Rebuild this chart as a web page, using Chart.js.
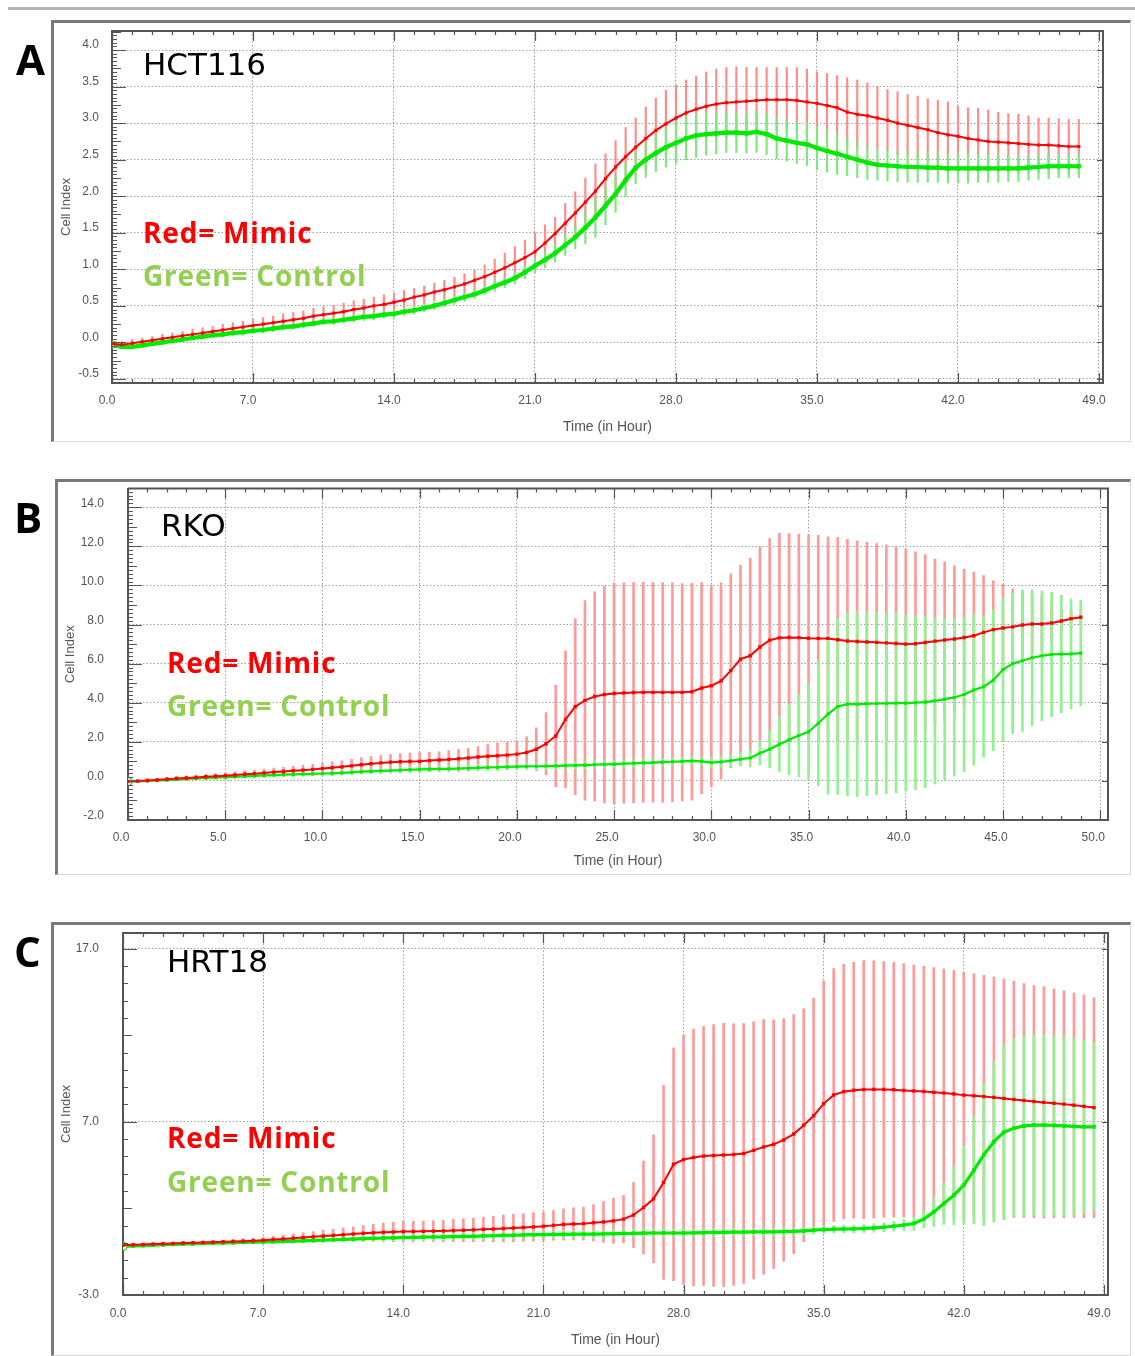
<!DOCTYPE html>
<html>
<head>
<meta charset="utf-8">
<title>Cell Index – Mimic vs Control</title>
<script src="https://cdn.jsdelivr.net/npm/chart.js@4.4.0/dist/chart.umd.min.js"></script>
<style>
  html, body { margin: 0; padding: 0; background: #fff; }
  body { width: 1135px; height: 1356px; position: relative; overflow: hidden; }
  .rule { position: absolute; left: 8px; top: 7px; width: 1127px; height: 3px; background: #b4b4b4; }
  .frame { position: absolute; box-sizing: border-box;
           border-left: 3px solid #7a7a7a; border-top: 3px solid #7a7a7a;
           border-right: 1px solid #dadada; border-bottom: 1px solid #dadada; }
  canvas { position: absolute; left: 0; }
</style>
</head>
<body>
<div class="rule"></div>
<div class="frame" style="left:51px;top:20px;width:1080px;height:422px"></div>
<div class="frame" style="left:55px;top:479px;width:1076px;height:396px"></div>
<div class="frame" style="left:51px;top:922px;width:1080px;height:434px"></div>
<canvas id="chartA" width="1135" height="416" style="top:24px"></canvas>
<canvas id="chartB" width="1135" height="390" style="top:483px"></canvas>
<canvas id="chartC" width="1135" height="428" style="top:926px"></canvas>

<script>
// Cell index readings, one value every half hour from t = 0.
const STEP_H = 0.5;

// ---- HCT116 (0 – 48 h) ----
const mimicA = [
  -0.02,-0.03,-0.01,0.01,0.03,0.05,0.07,0.09,0.11,0.13,
  0.15,0.17,0.19,0.21,0.23,0.25,0.27,0.29,0.31,0.33,
  0.36,0.38,0.40,0.42,0.45,0.47,0.50,0.52,0.55,0.58,
  0.62,0.65,0.69,0.72,0.76,0.80,0.85,0.90,0.96,1.02,
  1.09,1.16,1.24,1.36,1.49,1.63,1.77,1.92,2.07,2.24,
  2.40,2.54,2.67,2.79,2.90,2.99,3.07,3.14,3.19,3.23,
  3.26,3.28,3.29,3.30,3.31,3.32,3.32,3.32,3.31,3.29,
  3.27,3.24,3.21,3.15,3.12,3.10,3.07,3.04,3.00,2.97,
  2.94,2.91,2.87,2.84,2.82,2.79,2.77,2.75,2.74,2.73,
  2.72,2.71,2.70,2.70,2.69,2.68,2.68];
const sdMimicA = [
  .04,.04,.05,.05,.05,.06,.06,.06,.07,.07,
  .07,.08,.08,.08,.09,.09,.09,.10,.10,.10,
  .11,.11,.11,.12,.12,.12,.12,.13,.13,.13,
  .12,.12,.12,.13,.13,.14,.14,.16,.18,.20,
  .22,.24,.26,.25,.22,.27,.29,.33,.37,.34,
  .36,.40,.40,.43,.44,.46,.45,.45,.45,.47,
  .48,.48,.48,.46,.45,.44,.44,.44,.45,.45,
  .43,.44,.44,.47,.47,.45,.43,.42,.43,.42,
  .43,.42,.44,.45,.41,.42,.43,.43,.41,.40,
  .40,.39,.37,.37,.37,.37,.37];
const ctrlA = [
  -0.03,-0.06,-0.06,-0.04,-0.02,0.00,0.02,0.04,0.06,0.08,
  0.10,0.11,0.13,0.14,0.16,0.17,0.19,0.21,0.22,0.24,
  0.26,0.28,0.29,0.31,0.33,0.35,0.36,0.38,0.39,0.42,
  0.44,0.47,0.50,0.54,0.58,0.62,0.66,0.71,0.77,0.82,
  0.88,0.96,1.05,1.13,1.22,1.33,1.44,1.57,1.71,1.87,
  2.03,2.22,2.39,2.50,2.59,2.67,2.73,2.79,2.83,2.85,
  2.86,2.87,2.87,2.86,2.88,2.85,2.79,2.76,2.73,2.71,
  2.66,2.62,2.58,2.54,2.50,2.46,2.43,2.42,2.41,2.40,
  2.40,2.39,2.39,2.38,2.38,2.38,2.38,2.38,2.38,2.38,
  2.38,2.39,2.40,2.41,2.41,2.41,2.41];
const sdCtrlA = [
  .03,.03,.03,.03,.03,.03,.03,.03,.03,.03,
  .03,.03,.04,.04,.04,.04,.04,.04,.04,.04,
  .04,.04,.05,.05,.05,.05,.05,.05,.05,.05,
  .05,.05,.05,.05,.06,.06,.06,.06,.07,.07,
  .08,.09,.10,.11,.12,.14,.16,.22,.27,.26,
  .25,.23,.22,.24,.25,.27,.28,.29,.30,.29,
  .28,.27,.27,.27,.28,.28,.28,.28,.28,.29,
  .30,.29,.28,.26,.25,.23,.21,.21,.21,.21,
  .21,.20,.20,.20,.20,.20,.19,.19,.19,.18,
  .18,.17,.17,.17,.16,.16,.16];

// ---- RKO (0 – 49 h) ----
const mimicB = [
  -0.03,-0.01,0.02,0.05,0.09,0.12,0.15,0.18,0.21,0.24,
  0.27,0.30,0.34,0.37,0.41,0.45,0.48,0.52,0.55,0.59,
  0.63,0.67,0.72,0.77,0.83,0.88,0.92,0.96,0.98,0.99,
  1.00,1.04,1.07,1.10,1.13,1.17,1.22,1.26,1.29,1.32,
  1.37,1.45,1.62,1.90,2.30,3.15,3.80,4.12,4.32,4.42,
  4.47,4.50,4.52,4.53,4.53,4.53,4.53,4.53,4.56,4.75,
  4.87,5.12,5.64,6.23,6.40,6.85,7.20,7.32,7.34,7.33,
  7.30,7.29,7.29,7.22,7.16,7.13,7.11,7.09,7.06,7.03,
  7.00,7.02,7.08,7.15,7.21,7.26,7.34,7.43,7.60,7.74,
  7.82,7.88,7.98,8.03,8.03,8.08,8.18,8.30,8.37];
const sdMimicB = [
  .05,.06,.07,.08,.09,.10,.11,.12,.13,.14,
  .15,.16,.17,.18,.19,.20,.22,.23,.25,.26,
  .28,.30,.31,.33,.35,.37,.38,.40,.42,.43,
  .45,.44,.42,.45,.48,.50,.54,.60,.65,.66,
  .68,.80,1.10,1.60,2.60,3.50,4.50,5.10,5.35,5.55,
  5.65,5.64,5.63,5.63,5.62,5.62,5.60,5.56,5.55,5.40,
  5.15,5.02,4.96,4.80,5.00,5.12,5.20,5.35,5.32,5.30,
  5.30,5.27,5.20,5.24,5.20,5.15,5.10,5.05,5.02,4.95,
  4.85,4.70,4.50,4.20,4.00,3.75,3.50,3.25,2.90,2.50,
  2.25,1.95,1.70,1.50,1.36,1.05,0.65,0.45,0.40];
const ctrlB = [
  -0.03,-0.02,0.00,0.02,0.04,0.07,0.10,0.13,0.15,0.17,
  0.19,0.21,0.23,0.26,0.28,0.30,0.32,0.33,0.35,0.36,
  0.38,0.39,0.41,0.44,0.47,0.49,0.51,0.53,0.55,0.57,
  0.59,0.60,0.61,0.62,0.63,0.65,0.67,0.69,0.70,0.72,
  0.73,0.74,0.75,0.76,0.77,0.78,0.79,0.81,0.83,0.85,
  0.86,0.88,0.90,0.92,0.94,0.96,0.98,1.00,1.02,1.00,
  0.94,0.97,1.03,1.11,1.17,1.42,1.62,1.88,2.10,2.32,
  2.51,2.95,3.42,3.81,3.93,3.93,3.94,3.96,3.97,3.98,
  3.98,4.00,4.03,4.09,4.18,4.27,4.42,4.65,4.82,5.15,
  5.70,6.00,6.15,6.30,6.40,6.47,6.49,6.50,6.54];
const sdCtrlB = [
  .03,.03,.04,.04,.05,.05,.06,.06,.07,.07,
  .08,.08,.09,.09,.10,.10,.10,.11,.11,.11,
  .12,.12,.12,.13,.13,.13,.14,.14,.14,.15,
  .15,.15,.15,.16,.16,.16,.16,.17,.17,.17,
  .17,.17,.17,.17,.17,.17,.18,.18,.18,.18,
  .18,.18,.18,.18,.18,.18,.18,.19,.19,.20,
  .25,.28,.30,.35,.45,.60,.95,1.40,1.80,2.10,
  2.45,3.20,4.10,4.50,4.70,4.73,4.70,4.66,4.62,4.58,
  4.50,4.45,4.38,4.25,4.12,4.02,3.95,3.86,3.60,3.62,
  3.68,3.60,3.62,3.48,3.32,3.18,3.00,2.82,2.70];

// ---- HRT18 (0 – 48.5 h) ----
const mimicC = [
  -0.13,-0.10,-0.08,-0.06,-0.04,-0.02,0.00,0.01,0.03,0.05,
  0.07,0.09,0.11,0.13,0.16,0.20,0.24,0.28,0.32,0.36,
  0.40,0.44,0.48,0.52,0.56,0.59,0.62,0.64,0.66,0.67,
  0.68,0.69,0.70,0.72,0.74,0.76,0.79,0.81,0.84,0.87,
  0.90,0.93,0.97,1.02,1.07,1.10,1.12,1.17,1.22,1.28,
  1.38,1.62,2.05,2.55,3.50,4.55,4.82,4.94,5.02,5.05,
  5.08,5.11,5.17,5.35,5.55,5.70,5.95,6.29,6.80,7.35,
  8.05,8.55,8.74,8.82,8.86,8.87,8.87,8.85,8.81,8.78,
  8.75,8.70,8.66,8.61,8.54,8.50,8.46,8.41,8.35,8.29,
  8.23,8.17,8.12,8.07,8.02,7.96,7.89,7.82];
const sdMimicC = [
  .05,.05,.06,.06,.07,.07,.08,.08,.09,.09,
  .10,.12,.14,.16,.18,.20,.22,.25,.28,.30,
  .33,.36,.39,.42,.46,.50,.54,.57,.60,.60,
  .58,.60,.62,.64,.66,.68,.70,.74,.78,.80,
  .80,.82,.83,.86,.90,.93,.95,1.05,1.18,1.30,
  1.37,1.88,2.68,3.70,5.60,6.72,7.20,7.42,7.47,7.56,
  7.60,7.55,7.50,7.42,7.35,7.18,7.00,6.90,6.72,6.79,
  7.08,7.30,7.35,7.38,7.45,7.42,7.38,7.35,7.32,7.27,
  7.23,7.20,7.17,7.13,7.10,7.05,7.00,6.95,6.90,6.82,
  6.75,6.70,6.68,6.60,6.55,6.48,6.43,6.35];
const ctrlC = [
  -0.19,-0.17,-0.15,-0.12,-0.10,-0.08,-0.06,-0.04,-0.02,0.00,
  0.01,0.02,0.04,0.05,0.06,0.08,0.10,0.11,0.13,0.15,
  0.17,0.19,0.21,0.23,0.25,0.27,0.29,0.30,0.32,0.33,
  0.34,0.35,0.36,0.37,0.38,0.39,0.41,0.42,0.44,0.45,
  0.47,0.48,0.49,0.50,0.50,0.51,0.51,0.52,0.53,0.54,
  0.55,0.56,0.57,0.58,0.58,0.58,0.58,0.59,0.60,0.61,
  0.62,0.63,0.63,0.64,0.64,0.65,0.66,0.67,0.70,0.74,
  0.78,0.80,0.81,0.82,0.84,0.87,0.91,0.97,1.04,1.13,
  1.38,1.80,2.28,2.76,3.35,4.20,5.10,5.85,6.40,6.63,
  6.76,6.81,6.81,6.79,6.76,6.73,6.71,6.71];
const sdCtrlC = [
  .05,.05,.05,.06,.06,.06,.07,.07,.07,.08,
  .08,.08,.09,.09,.10,.10,.11,.11,.12,.12,
  .13,.13,.14,.14,.15,.15,.16,.16,.17,.17,
  .18,.18,.18,.19,.19,.19,.20,.20,.20,.20,
  .20,.20,.21,.21,.21,.21,.21,.22,.22,.22,
  .22,.22,.22,.22,.22,.22,.22,.22,.22,.22,
  .22,.22,.22,.22,.22,.22,.22,.22,.22,.22,
  .22,.22,.22,.22,.23,.24,.26,.28,.32,.40,
  .50,.85,1.20,1.70,2.25,3.10,4.10,4.65,5.05,5.17,
  5.19,5.19,5.25,5.17,5.15,5.10,4.98,4.85];

// Labelled tick values
const xTicksA = [0, 7, 14, 21, 28, 35, 42, 49];
const yTicksA = [-0.5, 0, 0.5, 1, 1.5, 2, 2.5, 3, 3.5, 4];
const xTicksB = [0, 5, 10, 15, 20, 25, 30, 35, 40, 45, 50];
const yTicksB = [-2, 0, 2, 4, 6, 8, 10, 12, 14];
const xTicksC = [0, 7, 14, 21, 28, 35, 42, 49];
const yTicksC = [-3, 7, 17];

// Text
const panelLetters = ['A', 'B', 'C'];
const cellLines = ['HCT116', 'RKO', 'HRT18'];
const legendMimic = 'Red= Mimic';
const legendControl = 'Green= Control';
const yTitle = 'Cell Index';
const xTitle = 'Time (in Hour)';

const AXIS_GREY = '#555';
const TICK_FONT = { family: 'Liberation Sans', size: 12 };

function points(values) {
  return values.map((v, i) => ({ x: i * STEP_H, y: v }));
}
function spread(values, sd) {
  return values.map((v, i) => ({ x: i * STEP_H, y: [v - sd[i], v + sd[i]] }));
}

// Inward tick marks on all four sides plus the top/right frame lines.
const frameTicks = {
  id: 'frameTicks',
  afterDatasetsDraw(chart, args, o) {
    const { ctx, chartArea: a, scales: { x, y } } = chart;
    ctx.save();
    ctx.strokeStyle = AXIS_GREY;
    ctx.lineWidth = 2;
    ctx.beginPath();
    ctx.moveTo(a.left, a.top); ctx.lineTo(a.right, a.top); ctx.lineTo(a.right, a.bottom);
    ctx.stroke();
    ctx.lineWidth = 1.2;
    ctx.beginPath();
    const nx = Math.floor(x.max / o.xMinor + 1e-6);
    for (let k = 0; k <= nx; k++) {
      const v = k * o.xMinor;
      const px = Math.round(x.getPixelForValue(v)) + 0.5;
      const major = Math.abs(v / o.xMajor - Math.round(v / o.xMajor)) < 1e-6;
      const len = major ? 10 : 4;
      ctx.moveTo(px, a.bottom); ctx.lineTo(px, a.bottom - len);
      ctx.moveTo(px, a.top); ctx.lineTo(px, a.top + len);
    }
    const k0 = Math.ceil(y.min / o.yMinor - 1e-6), k1 = Math.floor(y.max / o.yMinor + 1e-6);
    const base = o.yTicks[0];
    for (let k = k0; k <= k1; k++) {
      const v = k * o.yMinor;
      const py = Math.round(y.getPixelForValue(v)) + 0.5;
      const rMaj = (v - base) / o.yMajor, rMid = (v - base) / o.yMid;
      const major = Math.abs(rMaj - Math.round(rMaj)) < 1e-6;
      const mid = Math.abs(rMid - Math.round(rMid)) < 1e-6;
      const len = major ? 14 : (mid ? 9 : 5);
      ctx.moveTo(a.left, py); ctx.lineTo(a.left + len, py);
      if (major) { ctx.moveTo(a.right, py); ctx.lineTo(a.right - 6, py); }
    }
    ctx.stroke();
    ctx.restore();
  }
};

// Panel letter, cell line name and colour key.
const panelText = {
  id: 'panelText',
  afterDraw(chart, args, o) {
    const ctx = chart.ctx;
    ctx.save();
    ctx.textAlign = 'left';
    ctx.textBaseline = 'alphabetic';
    ctx.fillStyle = '#000';
    ctx.font = 'bold 42px "Open Sans"';
    ctx.fillText(o.letter, o.at.letter[0], o.at.letter[1]);
    ctx.font = '31px "DejaVu Sans"';
    ctx.fillText(o.name, o.at.name[0], o.at.name[1]);
    ctx.font = 'bold 28px "Open Sans"';
    ctx.letterSpacing = '0.8px';
    ctx.fillStyle = '#ff0000';
    ctx.fillText(legendMimic, o.at.mimic[0], o.at.mimic[1]);
    ctx.fillStyle = '#92d050';
    ctx.fillText(legendControl, o.at.control[0], o.at.control[1]);
    ctx.letterSpacing = '0px';
    ctx.restore();
  }
};

const panels = [
  { canvas: 'chartA', idx: 0, mimic: mimicA, sdMimic: sdMimicA, ctrl: ctrlA, sdCtrl: sdCtrlA,
    xTicks: xTicksA, yTicks: yTicksA, xMax: 49.2, yMin: -0.555, yMax: 4.26,
    xMajor: 7, xMinor: 1, yMajor: 0.5, yMid: 0.25, yMinor: 0.05,
    pad: { left: 50, right: 32, top: 7, bottom: 0 }, yAxisW: 62, xAxisH: 57,
    yTitlePad: 8.2, xTitlePad: 4.6, yTickPad: 13, xTickPad: 10.8, xLabelOffset: -5, yLabelOffset: -5,
    barW: 1.5, redBar: '#ff8c8c', greenBar: '#7ee87e',
    mimicWidth: 2, mimicRadius: 2.2, ctrlWidth: 4.2, ctrlRadius: 3, firstMarker: 'rect',
    at: { letter: [16, 51], name: [143, 51], mimic: [143, 219], control: [143, 262] } },
  { canvas: 'chartB', idx: 1, mimic: mimicB, sdMimic: sdMimicB, ctrl: ctrlB, sdCtrl: sdCtrlB,
    xTicks: xTicksB, yTicks: yTicksB, xMax: 50.4, yMin: -2, yMax: 14.96,
    xMajor: 5, xMinor: 1, yMajor: 2, yMid: 1, yMinor: 0.2,
    pad: { left: 50, right: 27, top: 5, bottom: 0 }, yAxisW: 78, xAxisH: 53,
    yTitlePad: 12.2, xTitlePad: 3.6, yTickPad: 24, xTickPad: 10.5, xLabelOffset: -7, yLabelOffset: -4,
    barW: 2, redBar: '#ff9a9a', greenBar: '#92f292',
    mimicWidth: 2, mimicRadius: 2.4, ctrlWidth: 2.2, ctrlRadius: 2.2, firstMarker: 'circle',
    at: { letter: [14, 50], name: [161, 53], mimic: [167, 190], control: [167, 233] } },
  { canvas: 'chartC', idx: 2, mimic: mimicC, sdMimic: sdMimicC, ctrl: ctrlC, sdCtrl: sdCtrlC,
    xTicks: xTicksC, yTicks: yTicksC, xMax: 49.2, yMin: -3, yMax: 17.9,
    xMajor: 7, xMinor: 1, yMajor: 10, yMid: 5, yMinor: 1,
    pad: { left: 50, right: 27, top: 7, bottom: 0 }, yAxisW: 73, xAxisH: 59,
    yTitlePad: 8.2, xTitlePad: 5.6, yTickPad: 24, xTickPad: 11.8, xLabelOffset: -5, yLabelOffset: 0,
    barW: 2, redBar: '#ff9a9a', greenBar: '#92f292',
    mimicWidth: 2, mimicRadius: 2.4, ctrlWidth: 3.2, ctrlRadius: 2.6, firstMarker: 'circle',
    at: { letter: [14, 41], name: [167, 46], mimic: [167, 222], control: [167, 266] } }
];

panels.forEach(p => {
  new Chart(document.getElementById(p.canvas), {
    type: 'line',
    data: {
      datasets: [
        { type: 'bar', label: 'Mimic SD', data: spread(p.mimic, p.sdMimic),
          backgroundColor: p.redBar, borderWidth: 0, barThickness: p.barW, maxBarThickness: p.barW,
          grouped: false, order: 4 },
        { type: 'bar', label: 'Control SD', data: spread(p.ctrl, p.sdCtrl),
          backgroundColor: p.greenBar, borderWidth: 0, barThickness: p.barW, maxBarThickness: p.barW,
          grouped: false, order: 3 },
        { type: 'line', label: 'Control', data: points(p.ctrl),
          borderColor: '#00ea00', borderWidth: p.ctrlWidth, tension: 0, order: 2,
          pointStyle: c => c.dataIndex === 0 ? p.firstMarker : 'rect',
          pointRadius: c => c.dataIndex === 0 ? 4 : p.ctrlRadius,
          pointBackgroundColor: c => c.dataIndex === 0 ? '#ffffff' : '#00ea00',
          pointBorderColor: '#33dd33',
          pointBorderWidth: c => c.dataIndex === 0 ? 1.5 : 0 },
        { type: 'line', label: 'Mimic', data: points(p.mimic),
          borderColor: '#ff0000', borderWidth: p.mimicWidth, tension: 0, order: 1,
          pointStyle: 'rect', pointRadius: p.mimicRadius, pointBackgroundColor: '#ff0000', pointBorderWidth: 0 }
      ]
    },
    options: {
      responsive: false,
      devicePixelRatio: 1,
      animation: false,
      events: [],
      layout: { padding: p.pad },
      plugins: {
        legend: { display: false },
        tooltip: { enabled: false },
        frameTicks: { xMajor: p.xMajor, xMinor: p.xMinor, yMajor: p.yMajor, yMid: p.yMid,
                      yMinor: p.yMinor, yTicks: p.yTicks },
        panelText: { letter: panelLetters[p.idx], name: cellLines[p.idx], at: p.at }
      },
      scales: {
        x: {
          type: 'linear', min: 0, max: p.xMax, offset: false,
          afterBuildTicks: s => { s.ticks = p.xTicks.map(v => ({ value: v })); },
          afterFit: s => { s.height = p.xAxisH; s.paddingLeft = 0; s.paddingRight = 0; },
          ticks: { autoSkip: false, maxRotation: 0, minRotation: 0, padding: p.xTickPad,
                   labelOffset: p.xLabelOffset, color: AXIS_GREY, font: TICK_FONT,
                   callback: v => Number(v).toFixed(1) },
          grid: { color: '#a0a0a0', lineWidth: 1, drawTicks: false, offset: false },
          border: { display: true, color: AXIS_GREY, width: 2, dash: [1.5, 2] },
          title: { display: true, text: xTitle, color: AXIS_GREY,
                   font: { family: 'Liberation Sans', size: 14 }, padding: { top: 0, bottom: p.xTitlePad } }
        },
        y: {
          type: 'linear', min: p.yMin, max: p.yMax, beginAtZero: false,
          afterBuildTicks: s => { s.ticks = p.yTicks.map(v => ({ value: v })); },
          afterFit: s => { s.width = p.yAxisW; s.paddingTop = 0; s.paddingBottom = 0; },
          ticks: { autoSkip: false, padding: p.yTickPad, labelOffset: p.yLabelOffset,
                   color: AXIS_GREY, font: TICK_FONT, callback: v => Number(v).toFixed(1) },
          grid: { color: '#a0a0a0', lineWidth: 1, drawTicks: false },
          border: { display: true, color: AXIS_GREY, width: 2, dash: [1.5, 2] },
          title: { display: true, text: yTitle, color: AXIS_GREY,
                   font: { family: 'Liberation Sans', size: 13 }, padding: { top: p.yTitlePad, bottom: 0 } }
        }
      }
    },
    plugins: [frameTicks, panelText]
  });
});
</script>
</body>
</html>
